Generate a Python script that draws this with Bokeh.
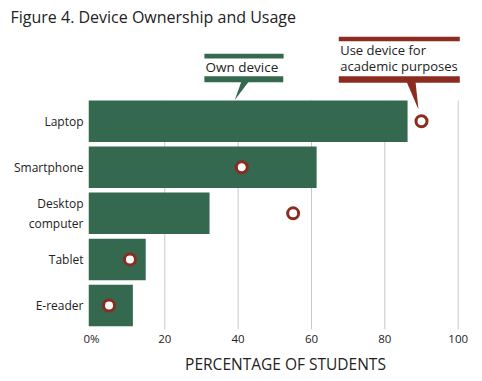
from bokeh.plotting import figure
from bokeh.models import Range1d, FixedTicker
from bokeh.core.properties import value
from bokeh.embed import file_html
from bokeh.resources import INLINE

# ---- data ----
devices = ["Laptop", "Smartphone", "Desktop\ncomputer", "Tablet", "E-reader"]
own_device = [86.2, 61.4, 32.2, 14.8, 11.3]
academic_use = [90, 41, 55, 10.5, 4.8]
x_ticks = [0, 20, 40, 60, 80, 100]
x_tick_labels = ["0%", "20", "40", "60", "80", "100"]

# ---- style ----
GREEN = "#34684f"
RED = "#8c2b20"
TEXT = "#222222"
GRID = "#c8c8c8"
FONT = "Open Sans"

X_MIN, X_MAX = -0.8, 106.63
Y_MIN, Y_MAX = -0.521, 5.882
BAR_H = 0.9

ypos = list(range(len(devices)))[::-1]

p = figure(frame_width=394, frame_height=295, output_backend="svg", toolbar_location=None,
           x_range=Range1d(X_MIN, X_MAX), y_range=Range1d(Y_MIN, Y_MAX),
           min_border_left=88, min_border_right=0, min_border_top=0,
           min_border_bottom=0, title="Figure 4. Device Ownership and Usage")
p.outline_line_color = None
p.xgrid.visible = False
p.ygrid.visible = False
p.background_fill_color = "white"
p.border_fill_color = "white"

p.title.align = "left"
p.title.vertical_align = "top"
p.title.offset = -78
p.title.text_font = FONT
p.title.text_font_size = "16px"
p.title.text_font_style = "normal"
p.title.text_color = TEXT

# vertical grid lines (behind bars)
grid_x = [t for t in x_ticks if t > 0]
p.segment(x0=grid_x, x1=grid_x, y0=[Y_MIN] * len(grid_x),
          y1=[ypos[0] + BAR_H / 2] * len(grid_x), line_color=GRID, line_width=1)

# bars: own device
p.hbar(y=ypos, left=X_MIN, right=own_device, height=BAR_H,
       fill_color=GREEN, line_color=None)

# points: academic use
p.scatter(x=academic_use, y=ypos, marker="circle", size=11,
          fill_color="white", line_color=RED, line_width=3)

# ---- callout: Own device ----
p.quad(left=[30.8, 30.8], right=[52.4, 52.3], bottom=[5.361, 4.847],
       top=[5.463, 4.977], fill_color=GREEN, line_color=None)
p.patch(x=[40.91, 42.96, 39.09], y=[4.87, 4.87, 4.46], fill_color=GREEN, line_color=None)
p.text(x=[31.1], y=[5.170], text=["Own device"], text_font=value(FONT),
       text_font_size="13.5px", text_color=TEXT, text_baseline="middle",
       text_align="left")

# ---- callout: academic use ----
p.quad(left=[67.44, 67.44], right=[100.44, 100.44], bottom=[5.737, 4.834],
       top=[5.832, 4.977], fill_color=RED, line_color=None)
p.patch(x=[85.9, 88.36, 89.18], y=[4.86, 4.86, 4.254], fill_color=RED, line_color=None)
p.text(x=[67.83, 67.83], y=[5.535, 5.194], text=["Use device for", "academic purposes"],
       text_font=value(FONT), text_font_size="13px", text_color=TEXT,
       text_baseline="middle", text_align="left")

# ---- axes ----
p.yaxis.ticker = FixedTicker(ticks=ypos)
p.yaxis.major_label_overrides = {y: d for y, d in zip(ypos, devices)}
p.yaxis.axis_line_color = None
p.yaxis.major_tick_line_color = None
p.yaxis.minor_tick_line_color = None
p.yaxis.major_tick_out = 0
p.yaxis.major_label_standoff = 5
p.yaxis.major_label_text_font = FONT
p.yaxis.major_label_text_font_size = "12px"
p.yaxis.major_label_text_color = TEXT

p.xaxis.ticker = FixedTicker(ticks=x_ticks)
p.xaxis.major_label_overrides = {t: l for t, l in zip(x_ticks, x_tick_labels)}
p.xaxis.axis_line_color = None
p.xaxis.major_tick_line_color = None
p.xaxis.minor_tick_line_color = None
p.xaxis.major_tick_out = 0
p.xaxis.major_label_standoff = 1
p.xaxis.major_label_text_font = FONT
p.xaxis.major_label_text_font_size = "11.5px"
p.xaxis.major_label_text_color = TEXT
p.xaxis.axis_label = "PERCENTAGE OF STUDENTS"
p.xaxis.axis_label_text_font = FONT
p.xaxis.axis_label_text_font_size = "15.5px"
p.xaxis.axis_label_text_font_style = "normal"
p.xaxis.axis_label_text_color = TEXT
p.xaxis.axis_label_standoff = 4

open("out.html", "w").write(file_html(p, INLINE))
